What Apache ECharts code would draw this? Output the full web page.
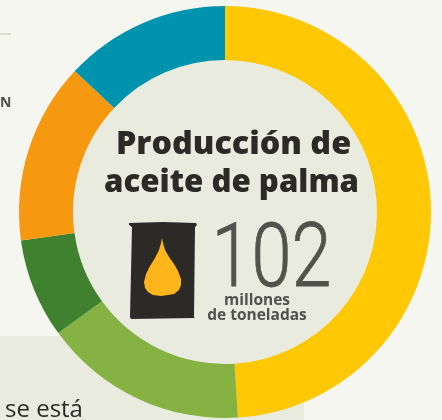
<!DOCTYPE html>
<html><head><meta charset="utf-8">
<style>html,body{margin:0;padding:0;background:#f5f6f0}#c{width:442px;height:420px}</style>
<script src="https://cdn.jsdelivr.net/npm/echarts@6/dist/echarts.min.js"></script>
</head><body><div id="c"></div>
<script>
const shares = [49, 16, 7.8, 14.2, 13];
const colors = ['#fec804', '#86b143', '#40812f', '#f69810', '#0093ae'];
const titleLines = ['Producción de', 'aceite de palma'];
const total = '102';
const unitLines = ['millones', 'de toneladas'];
const chart = echarts.init(document.getElementById('c'), null, {renderer:'canvas'});
const t = (x,y,text,font,fill,align='center',extra={}) => Object.assign({type:'text',z:3,x,y,style:{text,font,fill,align,verticalAlign:'middle'}},extra);
const totalText = t(271.5,264,total,'300 89px Roboto','#52524c','center',{scaleX:0.81});
totalText.style.stroke = '#52524c';
totalText.style.lineWidth = 0.8;
chart.setOption({
  animation:false,
  backgroundColor:'#f5f6f0',
  graphic:[
    {type:'rect',z:-1,shape:{x:0,y:336,width:304,height:84},style:{fill:'#e9ebdf'}},
    {type:'rect',z:-1,shape:{x:0,y:33,width:11,height:2},style:{fill:'#dcdcc8'}},
    {type:'circle',z:1,shape:{cx:225,cy:212,r:153},style:{fill:'#e9ebdf'}},
    t(0,103,'N','bold 14px "Open Sans"','#4f4f49','left'),
    t(5,410,'se está','24px "Open Sans"','#2b2a26','left'),
    t(233.5,145,titleLines[0],'800 32.3px "Open Sans"','#2b2a26'),
    t(231.5,183,titleLines[1],'800 31.2px "Open Sans"','#2b2a26'),
    totalText,
    t(257,301,unitLines[0],'bold 15.5px "Open Sans"','#52524c'),
    t(257,316,unitLines[1],'bold 15.5px "Open Sans"','#52524c'),
    {type:'polygon',z:3,shape:{points:[[129,223],[163,222],[196,223],[197,225],[195,227],[194,317],[195,318],[131,319],[130,317],[132,227],[129,225]]},style:{fill:'#2b2a26'}},
    {type:'polygon',z:4,shape:{points:[[162,238],[163,243],[165,250],[169,257],[174,264],[178,271],[181,279],[181,285],[179,290],[174,294],[168,295],[161,296],[153,295],[148,292],[145,288],[144,282],[146,274],[150,266],[155,258],[159,250],[161,243]]},style:{fill:'#fdb51b'}}
  ],
  series:[{
    type:'pie',z:2,silent:true,
    center:[225,212],radius:[152,206],startAngle:90,clockwise:true,
    label:{show:false},labelLine:{show:false},
    data:shares.map((v,i)=>({value:v,itemStyle:{color:colors[i]}}))
  }]
});
</script></body></html>
